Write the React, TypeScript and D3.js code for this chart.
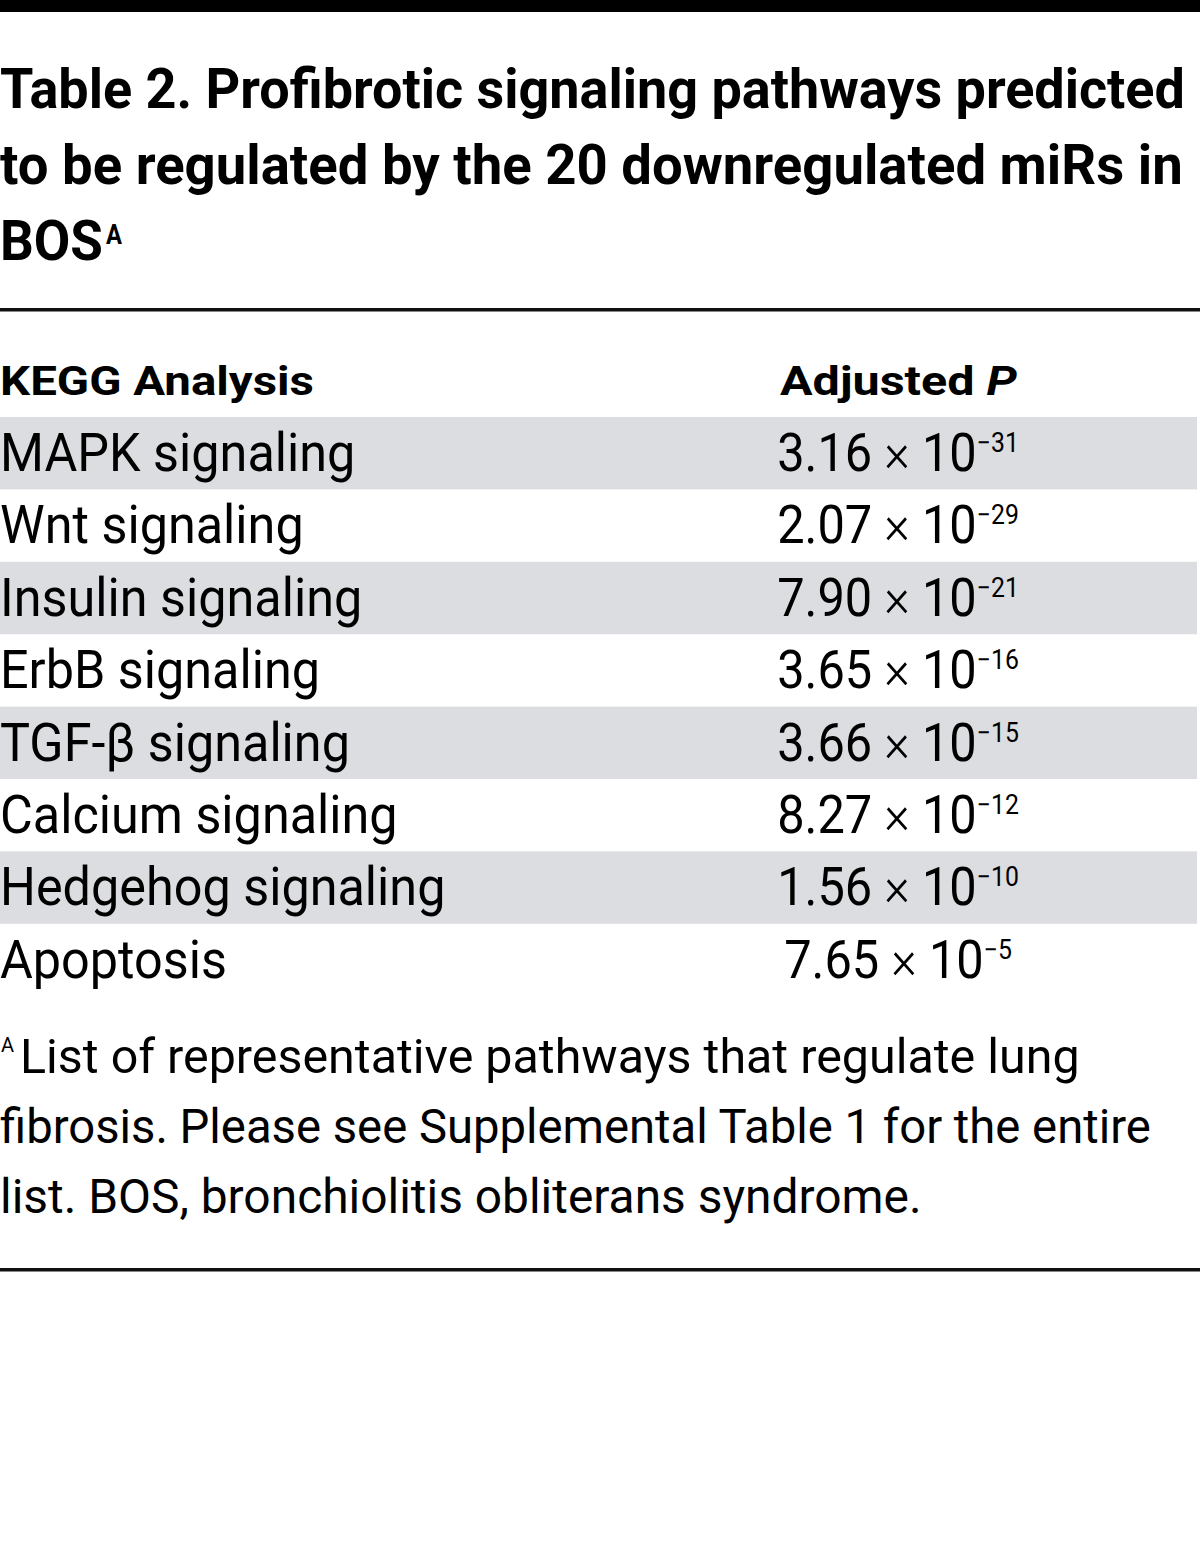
import React from "react";
import * as d3 from "d3";

const titleLines = [
  "Table 2. Profibrotic signaling pathways predicted",
  "to be regulated by the 20 downregulated miRs in",
  "BOS",
];
const titleNote = "A";
const columnHeaders = ["KEGG Analysis", "Adjusted "];
const pathways = [
  "MAPK signaling",
  "Wnt signaling",
  "Insulin signaling",
  "ErbB signaling",
  "TGF-β signaling",
  "Calcium signaling",
  "Hedgehog signaling",
  "Apoptosis",
];
const pMantissa = ["3.16", "2.07", "7.90", "3.65", "3.66", "8.27", "1.56", "7.65"];
const pExponent = [-31, -29, -21, -16, -15, -12, -10, -5];
const footnoteLines = [
  "List of representative pathways that regulate lung",
  "fibrosis. Please see Supplemental Table 1 for the entire",
  "list. BOS, bronchiolitis obliterans syndrome.",
];

const W = 1200;
const H = 1562;
const FONT = "Roboto, 'Noto Sans', sans-serif";
const BODY_SX = 0.95;
const VALUE_SX = 0.92;

let ctx: CanvasRenderingContext2D | null = null;
function measure(txt: string, size: number, weight = 400, style = "normal") {
  if (!ctx) ctx = document.createElement("canvas").getContext("2d");
  if (!ctx) return txt.length * size * 0.5;
  ctx.font = `${style} ${weight} ${size}px Roboto`;
  return ctx.measureText(txt).width;
}

function Fit(props: {
  x: number;
  y: number;
  width: number;
  size: number;
  weight?: number;
  children: React.ReactNode;
  natural: number;
}) {
  const sx = props.width / props.natural;
  return (
    <text
      transform={`translate(${props.x},${props.y}) scale(${sx},1)`}
      fontSize={props.size}
      fontWeight={props.weight ?? 400}
      fill="#000"
    >
      {props.children}
    </text>
  );
}

export default function App() {
  const rowTop = 417;
  const rowH = 72.4;
  const y = d3
    .scaleBand<string>()
    .domain(pathways)
    .range([rowTop, rowTop + rowH * pathways.length])
    .padding(0);

  const titleY = d3.scaleLinear().domain([0, 1]).range([108, 184]);
  const footY = d3.scaleLinear().domain([0, 1]).range([1073, 1143]);
  const valueX = 898;
  const titleWidths = [1185, 1183, 103];
  const footX = [20, 0, 0];
  const footWidths = [1060, 1152, 922];

  const fmtExp = (e: number) => "\u2212" + Math.abs(e);

  return (
    <svg
      width={W}
      height={H}
      viewBox={`0 0 ${W} ${H}`}
      style={{ position: "absolute", left: 0, top: 0, background: "#fff" }}
      fontFamily={FONT}
    >
      <rect x={0} y={0} width={W} height={H} fill="#fff" />
      {/* top bar */}
      <rect x={0} y={0} width={W} height={12} fill="#000" />

      {/* title */}
      {titleLines.map((t, i) => (
        <Fit
          key={t}
          x={0}
          y={titleY(i)}
          width={titleWidths[i]}
          size={56}
          weight={700}
          natural={measure(t, 56, 700)}
        >
          {t}
        </Fit>
      ))}
      <text x={106} y={titleY(2) - 16} fontSize={28} fontWeight={700}
        transform={`translate(${106 * (1 - 0.85)},0) scale(0.85,1)`}>
        {titleNote}
      </text>

      {/* title rule */}
      <rect x={0} y={308} width={W} height={3.5} fill="#111" />

      {/* column headers */}
      <Fit x={0} y={395} width={314} size={40} weight={700} natural={measure(columnHeaders[0], 40, 700)}>
        {columnHeaders[0]}
      </Fit>
      <Fit
        x={780}
        y={395}
        width={237}
        size={40}
        weight={700}
        natural={measure(columnHeaders[1], 40, 700) + measure("P", 40, 700, "italic")}
      >
        {columnHeaders[1]}
        <tspan fontStyle="italic">P</tspan>
      </Fit>

      {/* rows */}
      {pathways.map((p, i) => (
        <g key={p}>
          {i % 2 === 0 && (
            <rect x={0} y={y(p)!} width={1197} height={y.bandwidth()} fill="#dcdde0" />
          )}
          <text
            transform={`translate(0,${y(p)! + 54}) scale(${BODY_SX},1)`}
            fontSize={53}
            fill="#000"
          >
            {p}
          </text>
          <text
            transform={`translate(${valueX},${y(p)! + 54}) scale(${VALUE_SX},1)`}
            fontSize={53}
            textAnchor="middle"
            fill="#000"
          >
            {pMantissa[i]} <tspan fontWeight={300}>×</tspan> 10
            <tspan fontSize={27} dy={-19}>
              {fmtExp(pExponent[i])}
            </tspan>
          </text>
        </g>
      ))}

      {/* footnote */}
      <text x={1} y={footY(0) - 21} fontSize={20}>
        A
      </text>
      {footnoteLines.map((t, i) => (
        <Fit
          key={t}
          x={footX[i]}
          y={footY(i)}
          width={footWidths[i]}
          size={48}
          natural={measure(t, 48, 400)}
        >
          {t}
        </Fit>
      ))}

      {/* bottom rule */}
      <rect x={0} y={1268} width={W} height={3.5} fill="#111" />
    </svg>
  );
}
